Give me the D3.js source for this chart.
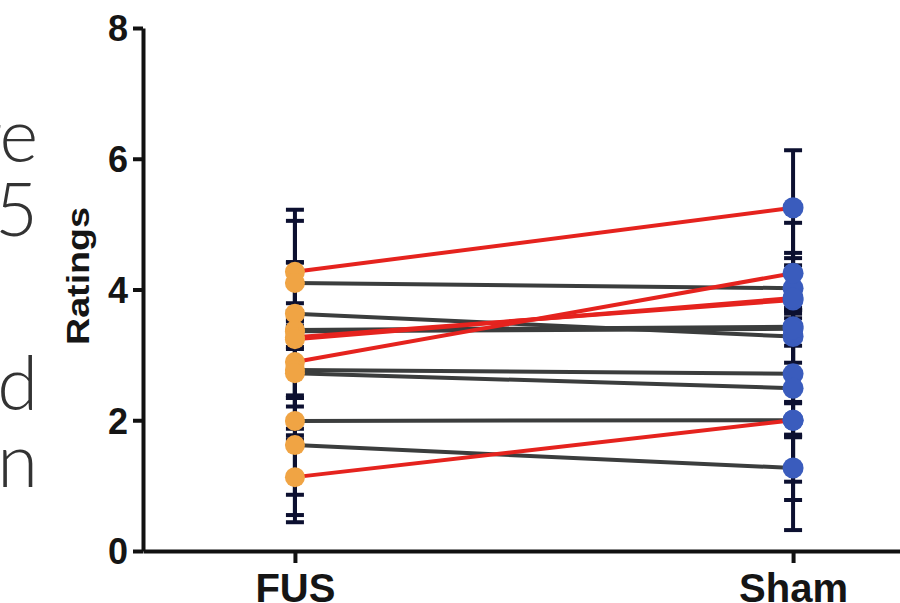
<!DOCTYPE html>
<html><head><meta charset="utf-8">
<script src="https://cdn.jsdelivr.net/npm/d3@7"></script>
<style>
html,body{margin:0;padding:0;background:#fff;overflow:hidden;}
svg{display:block;}
</style></head>
<body>
<svg id="chart" width="900" height="603"></svg>
<script>
// ---- data ----
const conditions = ["FUS", "Sham"];
const yTicks = [0, 2, 4, 6, 8];
const fusMean  = [4.27, 4.10, 3.63, 3.38, 3.36, 3.27, 3.24, 2.89, 2.77, 2.72, 1.99, 1.62, 1.13];
const fusSD    = [0.95, 0.31, 1.42, 1.04, 0.15, 0.15, 0.15, 0.55, 0.90, 0.95, 1.55, 0.76, 0.58];
const shamMean = [5.25, 4.02, 3.28, 3.43, 3.40, 3.84, 3.87, 4.25, 2.71, 2.49, 2.00, 1.27, 2.00];
const shamSD   = [0.88, 0.46, 0.40, 0.20, 1.62, 0.15, 0.15, 0.31, 0.43, 1.43, 1.68, 0.49, 0.26];
const improved = [true, false, false, false, false, true, true, true, false, false, false, false, true];
const sideText = [["re", 162], ["5", 236], ["ed", 410], ["n", 487]];

const svg = d3.select("#chart");
const y = d3.scaleLinear().domain([0, 8]).range([551, 28]);
const x = d3.scalePoint().domain(conditions).range([143, 945]).padding(0.305);

// side text fragments
svg.append("g").selectAll("text").data(sideText).join("text")
  .attr("x", 38).attr("y", d => d[1])
  .attr("text-anchor", "end")
  .attr("font-family", "Lato, 'Open Sans', sans-serif")
  .attr("font-weight", 300)
  .attr("font-size", 74)
  .attr("fill", "#333")
  .text(d => d[0]);

// axes
const yAxis = svg.append("g").attr("transform", "translate(143,0)")
  .call(d3.axisLeft(y).tickValues(yTicks).tickSize(10).tickSizeOuter(0).tickPadding(5).tickFormat(d3.format("d")));
const xAxis = svg.append("g").attr("transform", "translate(0,551)")
  .call(d3.axisBottom(x).tickSize(12).tickSizeOuter(0).tickPadding(11));
[yAxis, xAxis].forEach(g => {
  g.select(".domain").attr("stroke", "#111").attr("stroke-width", 4);
  g.selectAll(".tick line").attr("stroke", "#111").attr("stroke-width", 4);
});
yAxis.selectAll(".tick text")
  .attr("font-family", "'Liberation Sans', Arial, sans-serif")
  .attr("font-weight", "bold").attr("font-size", 36).attr("fill", "#151515")
  .attr("dy", "0.36em");
xAxis.selectAll(".tick text")
  .attr("font-family", "'Liberation Sans', Arial, sans-serif")
  .attr("font-weight", "bold").attr("font-size", 40).attr("fill", "#151515")
  .attr("dy", "0.7em");

// y label
svg.append("text")
  .attr("transform", "translate(89,276) rotate(-90)")
  .attr("text-anchor", "middle")
  .attr("font-family", "'Liberation Sans', Arial, sans-serif")
  .attr("font-weight", "bold").attr("font-size", 31).attr("fill", "#151515")
  .attr("textLength", 138).attr("lengthAdjust", "spacingAndGlyphs")
  .text("Ratings");

// error bars
const bars = [];
fusMean.forEach((m, i) => bars.push({c: "FUS", m, sd: fusSD[i]}));
shamMean.forEach((m, i) => bars.push({c: "Sham", m, sd: shamSD[i]}));
const eb = svg.append("g").attr("stroke", "#0c1030");
eb.selectAll("line.v").data(bars).join("line").attr("class", "v")
  .attr("x1", d => x(d.c)).attr("x2", d => x(d.c))
  .attr("y1", d => y(d.m + d.sd)).attr("y2", d => y(d.m - d.sd))
  .attr("stroke-width", 4);
["top", "bot"].forEach(k => {
  eb.selectAll("line." + k).data(bars).join("line").attr("class", k)
    .attr("x1", d => x(d.c) - 9).attr("x2", d => x(d.c) + 9)
    .attr("y1", d => y(k === "top" ? d.m + d.sd : d.m - d.sd))
    .attr("y2", d => y(k === "top" ? d.m + d.sd : d.m - d.sd))
    .attr("stroke-width", 4);
});

// connecting lines (gray first, red on top)
const pairs = fusMean.map((f, i) => ({f, s: shamMean[i], red: improved[i]}));
svg.append("g").selectAll("line").data(pairs.filter(p => !p.red).concat(pairs.filter(p => p.red))).join("line")
  .attr("x1", x("FUS")).attr("x2", x("Sham"))
  .attr("y1", d => y(d.f)).attr("y2", d => y(d.s))
  .attr("stroke", d => d.red ? "#e5231e" : "#3b3d3d")
  .attr("stroke-width", 4);

// points
svg.append("g").selectAll("circle").data(fusMean).join("circle")
  .attr("cx", x("FUS")).attr("cy", d => y(d)).attr("r", 10).attr("fill", "#f0a444");
svg.append("g").selectAll("circle").data(shamMean).join("circle")
  .attr("cx", x("Sham")).attr("cy", d => y(d)).attr("r", 10.5).attr("fill", "#3a5cbd");
</script>
</body></html>
